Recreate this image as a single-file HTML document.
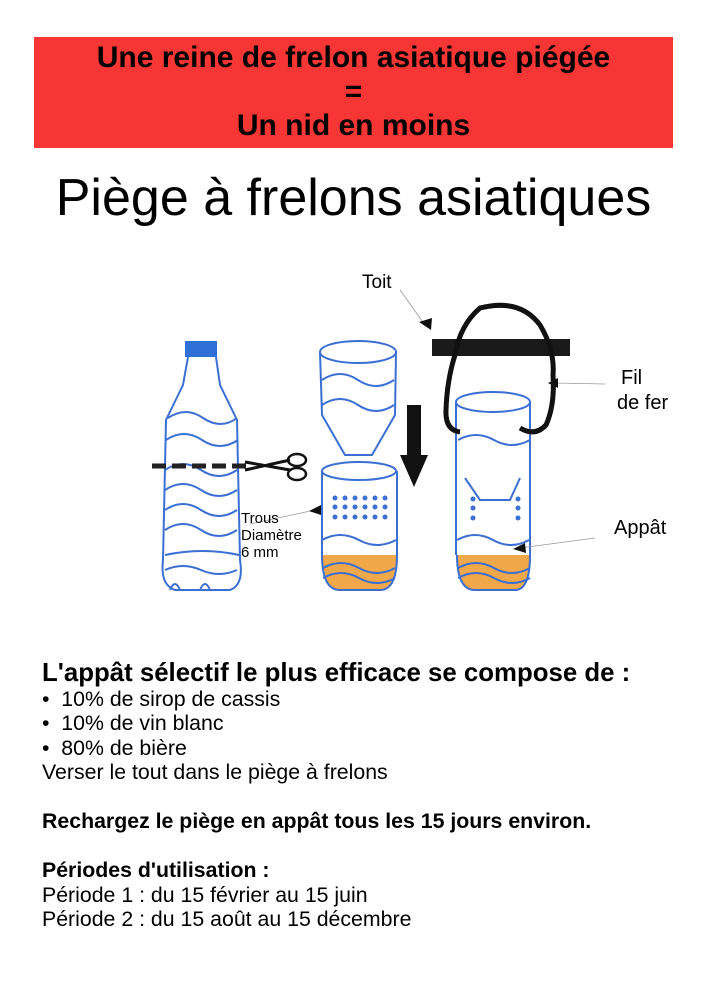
<!DOCTYPE html>
<html><head><meta charset="utf-8"><style>
body{margin:0;width:707px;height:1000px;background:#fff;font-family:"Liberation Sans",sans-serif;position:relative;overflow:hidden}
.hdr{position:absolute;left:34px;top:37px;width:639px;height:111px;background:#f63634;text-align:center;font-weight:bold;font-size:30px;line-height:34px;padding-top:4px;box-sizing:border-box;color:#000}
.t{position:absolute;left:0;width:707px;text-align:center;top:168px;font-size:52px}
.a{position:absolute;font-size:20px;color:#000}
.txt{position:absolute;left:42px;top:661px;font-size:21.3px;line-height:24.5px}
</style></head><body>
<div class="hdr">Une reine de frelon asiatique piégée<br>=<br>Un nid en moins</div>
<div class="t">Piège à frelons asiatiques</div>
<svg width="707" height="1000" style="position:absolute;left:0;top:0" fill="none">
<g stroke="#3b6fd4" stroke-width="2">
<rect x="186" y="342" width="30" height="14" fill="#2f6fd8" stroke="#2f6fd8"/>
<path d="M188 357 L183 385 L166 420 L163 560 Q160 585 175 590 L230 590 Q244 585 240 560 L237 420 L220 385 L216 357"/>
<path d="M168 418 q18 -12 35 0 q18 12 34 0 M166 440 q18 -12 36 0 q18 12 36 0 M165 470 q18 -12 36 0 q18 12 36 0 M165 490 q18 -12 36 0 q18 12 36 0 M165 510 q18 -12 36 0 q18 12 36 0 M165 530 q18 -12 36 0 q18 12 36 0 M165 555 q38 -8 74 0 M165 570 q18 -8 36 0 q18 8 36 0 M170 590 q5 -12 10 0 M200 590 q5 -12 10 0"/>
<ellipse cx="358" cy="352" rx="38" ry="11"/>
<path d="M320 352 L322 415 L345 455 L372 455 L395 415 L396 352 M322 380 q18 -12 36 0 q18 12 36 0 M322 405 q18 -12 36 0 q18 12 36 0"/>
<path d="M322 555 Q322 590 340 590 L380 590 Q397 590 397 555" fill="#f0a84a"/>
<ellipse cx="359" cy="471" rx="37" ry="9"/>
<path d="M322 471 L322 555 M397 471 L397 555 M322 540 q18 -10 37 0 q18 10 37 0 M323 568 q18 -10 36 0 q18 10 36 0 M323 578 q18 -10 36 0 q18 10 36 0"/>
<path d="M457 555 Q457 590 475 590 L515 590 Q530 590 530 555" fill="#f0a84a"/>
<ellipse cx="493" cy="402" rx="37" ry="10"/>
<path d="M456 402 L456 555 M530 402 L530 555 M458 440 q18 -10 36 0 q18 10 36 0 M465 478 L480 500 L510 500 L520 478 M457 540 q18 -10 36 0 q18 10 36 0 M458 568 q18 -10 36 0 q18 10 36 0 M458 578 q18 -10 36 0 q18 10 36 0"/>
</g>
<g fill="#3b6fd4">
<circle cx="335" cy="498" r="2.5"/><circle cx="345" cy="498" r="2.5"/><circle cx="355" cy="498" r="2.5"/><circle cx="365" cy="498" r="2.5"/><circle cx="375" cy="498" r="2.5"/><circle cx="385" cy="498" r="2.5"/>
<circle cx="335" cy="507" r="2.5"/><circle cx="345" cy="507" r="2.5"/><circle cx="355" cy="507" r="2.5"/><circle cx="365" cy="507" r="2.5"/><circle cx="375" cy="507" r="2.5"/><circle cx="385" cy="507" r="2.5"/>
<circle cx="335" cy="517" r="2.5"/><circle cx="345" cy="517" r="2.5"/><circle cx="355" cy="517" r="2.5"/><circle cx="365" cy="517" r="2.5"/><circle cx="375" cy="517" r="2.5"/><circle cx="385" cy="517" r="2.5"/>
<circle cx="473" cy="499" r="2.5"/><circle cx="473" cy="508" r="2.5"/><circle cx="473" cy="518" r="2.5"/><circle cx="518" cy="499" r="2.5"/><circle cx="518" cy="508" r="2.5"/><circle cx="518" cy="518" r="2.5"/>
</g>
<path d="M152 466 L250 466" stroke="#222" stroke-width="5" stroke-dasharray="14 6"/>
<path d="M245 462 L290 470 M245 470 L290 460" stroke="#111" stroke-width="3"/>
<ellipse cx="297" cy="460" rx="9" ry="6" stroke="#111" stroke-width="2.5"/>
<ellipse cx="297" cy="474" rx="9" ry="6" stroke="#111" stroke-width="2.5"/>
<rect x="407" y="405" width="14" height="50" fill="#111"/>
<polygon points="400,455 428,455 414,487" fill="#111"/>
<rect x="432" y="339" width="138" height="17" fill="#1a1a1a"/>
<path d="M460 432 Q445 430 446 410 Q447 380 455 355 Q460 325 480 308 Q520 298 540 325 Q555 350 553 375 Q555 405 546 425 Q535 437 520 428" stroke="#111" stroke-width="5"/>
<g stroke="#999" stroke-width="0.8"><path d="M400 290 L425 325 M555 383 L605 384 M250 524 L315 510 M520 548 L595 538"/></g>
<g fill="#111"><polygon points="419,322 431,330 432,318"/><polygon points="548,383 558,378 558,388"/><polygon points="309,511 321,505 321,515"/><polygon points="513,549 525,543 526,553"/></g>
</svg>
<div class="a" style="left:362px;top:272px;font-size:19px">Toit</div>
<div class="a" style="left:617px;top:366px;line-height:25px"><span style="margin-left:4px">Fil</span><br>de fer</div>
<div class="a" style="left:614px;top:517px">Appât</div>
<div class="a" style="left:241px;top:510px;font-size:15px;line-height:17px">Trous<br>Diamètre<br>6 mm</div>
<div class="txt"><b style="font-size:25.8px">L'appât sélectif le plus efficace se compose de :</b><br>
•&nbsp; 10% de sirop de cassis<br>•&nbsp; 10% de vin blanc<br>•&nbsp; 80% de bière<br>Verser le tout dans le piège à frelons<br><br>
<b>Rechargez le piège en appât tous les 15 jours environ.</b><br><br>
<b>Périodes d'utilisation :</b><br>Période 1 : du 15 février au 15 juin<br>Période 2 : du 15 août au 15 décembre</div>
</body></html>
